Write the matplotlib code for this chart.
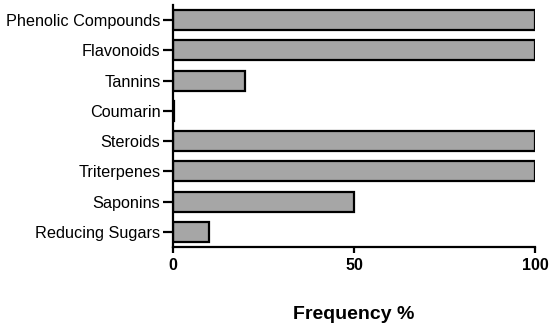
import matplotlib.pyplot as plt

plt.rcParams['font.family'] = ['Liberation Sans', 'DejaVu Sans']

categories = ["Phenolic Compounds", "Flavonoids", "Tannins", "Coumarin",
              "Steroids", "Triterpenes", "Saponins", "Reducing Sugars"]
frequency = [100, 100, 20, 0.3, 100, 100, 50, 10]

fig = plt.figure(figsize=(5.5, 3.27), dpi=100)
ax = fig.add_axes([0.3145, 0.2446, 0.6582, 0.7404])

pos = list(range(len(categories)))[::-1]
ax.barh(pos, frequency, height=0.66, color="#a6a6a6", edgecolor="black", linewidth=1.6)

ax.set_xlim(0, 100)
ax.set_ylim(-0.5, 7.5)
ax.set_yticks(pos)
ax.set_yticklabels(categories, fontsize=11.7)
ax.set_xticks([0, 50, 100])
ax.set_xticklabels(["0", "50", "100"], fontsize=11.5, fontweight="bold")
ax.set_xlabel("Frequency %", fontsize=14, fontweight="bold", labelpad=24)

for side in ["top", "right"]:
    ax.spines[side].set_visible(False)
for side in ["left", "bottom"]:
    ax.spines[side].set_linewidth(1.6)
ax.tick_params(axis="y", width=1.6, length=7, pad=2)
ax.tick_params(axis="x", width=1.6, length=4.5)

fig.savefig("out.png", dpi=100)
